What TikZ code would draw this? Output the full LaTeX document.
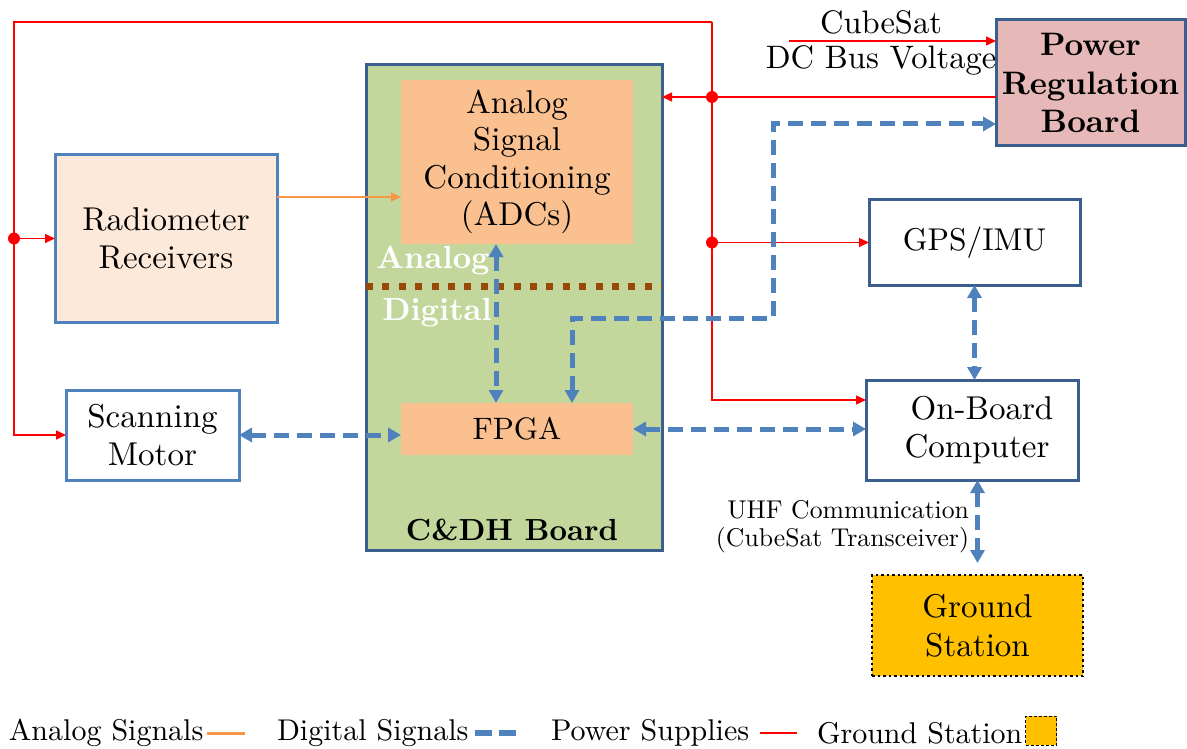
\documentclass[tikz,border=0pt]{standalone}
\usepackage{fontspec}
\setmainfont{lmroman10-regular.otf}[BoldFont=lmroman10-bold.otf, ItalicFont=lmroman10-italic.otf, BoldItalicFont=lmroman10-bolditalic.otf]
\usetikzlibrary{arrows.meta,calc}
\definecolor{bblue}{HTML}{4F81BD}
\definecolor{dblue}{HTML}{3A5F8E}
\definecolor{cgreen}{HTML}{C3D69B}
\definecolor{corange}{HTML}{FAC090}
\definecolor{cpeach}{HTML}{FDE9D9}
\definecolor{cpink}{HTML}{E6B9B8}
\definecolor{cbrown}{HTML}{984807}
\definecolor{cyellow}{HTML}{FFC000}
\definecolor{aorange}{HTML}{F79646}
\definecolor{cred}{HTML}{FF0000}
\begin{document}
\begin{tikzpicture}[x=1pt,y=-1pt,
  every node/.style={inner sep=0pt, outer sep=0pt, align=center, font=\fontsize{33}{38.5}\selectfont},
  box/.style={draw=bblue, line width=3pt, rectangle},
  dbox/.style={draw=dblue, line width=3pt, rectangle},
  inner/.style={fill=corange, rectangle},
  pwr/.style={draw=cred, line width=1.5pt},
  pwrarrow/.style={pwr, -{Triangle[length=10pt,width=9pt]}},
  dig/.style={draw=bblue, line width=5pt, dash pattern=on 15pt off 8pt},
  digarrow/.style={dig, {Triangle[length=13pt,width=14pt]}-{Triangle[length=13pt,width=14pt]}},
  pdot/.style={circle, fill=cred, minimum size=12pt},
  leg/.style={font=\fontsize{30}{34}\selectfont},
  adlbl/.style={text=white, font=\bfseries\fontsize{32}{36}\selectfont, anchor=base}
]
\useasboundingbox (0,0) rectangle (1187,749);

% C&DH board and inner blocks
\node[dbox, fill=cgreen, minimum width=296pt, minimum height=485pt] (cdh) at (514,307.5) {};
\node[font=\bfseries\fontsize{30.5}{36}\selectfont] (cdhlbl) at (512,530) {C\&DH Board};
\node[inner, minimum width=232pt, minimum height=164pt, font=\fontsize{33}{37.5}\selectfont] (adc) at (517,162) {Analog\\Signal\\Conditioning\\(ADCs)};
\node[inner, minimum width=232pt, minimum height=52pt, font=\fontsize{31}{36}\selectfont] (fpga) at (517,429) {FPGA};

% Analog/Digital divider
\coordinate (ad) at (0,286);
\draw[cbrown, line width=7pt, dash pattern=on 7pt off 9.4pt] (cdh.west |- ad) -- (cdh.east |- ad);
\node[adlbl] (lblA) at (433,269) {Analog};
\node[adlbl] (lblD) at (437,320) {Digital};

% other blocks
\node[box, fill=cpeach, minimum width=222pt, minimum height=167pt] (rad) at (166,238.5) {Radiometer\\Receivers};
\node[box, fill=white, minimum width=173pt, minimum height=90pt] (mot) at (152.5,435) {Scanning\\Motor};
\node[dbox, fill=cpink, minimum width=189pt, minimum height=126pt, font=\bfseries\fontsize{32.5}{38.5}\selectfont] (prb) at (1090.5,83) {Power\\Regulation\\Board};
\node[dbox, fill=white, minimum width=211pt, minimum height=85pt, font=\fontsize{31.5}{36}\selectfont] (gps) at (974.5,242.5) {GPS/IMU};
\node[dbox, fill=white, minimum width=212pt, minimum height=100pt] (obc) at (972,430) {\hspace*{20pt}On-Board\\\hspace*{10pt}Computer};
\node[draw=black, line width=2.5pt, dash pattern=on 2.5pt off 3pt, fill=cyellow, minimum width=211pt, minimum height=101pt] (gs) at (977.5,625.5) {Ground\\Station};

% CubeSat DC bus label
\node[font=\fontsize{32.5}{36}\selectfont] (cs1) at (881,22) {CubeSat};
\node[font=\fontsize{32.5}{36}\selectfont] (cs2) at (881,60) {DC Bus Voltage};
\coordinate (csin) at (789,41);
\draw[pwrarrow] (csin) -- (prb.west |- csin);

% power network
\coordinate (tl) at (14,22);
\coordinate (tr) at (712,22);
\coordinate (pout) at ([yshift=-14pt]prb.west);
\coordinate (j1) at (tr |- pout);
\coordinate (j2) at (tr |- gps.west);
\coordinate (j3) at (tl |- rad.west);
\coordinate (o1) at ([yshift=30pt]obc.west);
\draw[pwrarrow] (pout) -- (cdh.east |- pout);
\draw[pwrarrow] (tr) -- (tl) -- (tl |- mot.west) -- (mot.west);
\draw[pwrarrow] (j3) -- (rad.west);
\draw[pwrarrow] (tr) -- (tr |- o1) -- (o1);
\draw[pwrarrow] (j2) -- (gps.west);
\node[pdot] (d1) at (j1) {};
\node[pdot] (d2) at (j2) {};
\node[pdot] (d3) at (j3) {};

% analog signal
\coordinate (aout) at ([yshift=-42pt]rad.north east);
\draw[draw=aorange, line width=2pt, -{Triangle[length=10pt,width=9pt]}] (aout) -- (adc.west |- aout);

% digital signals
\draw[digarrow] (mot.east) -- (fpga.west |- mot.east);
\draw[digarrow] (fpga.east) -- (obc.west |- fpga.east);
\draw[digarrow] ([xshift=-21pt]adc.south) -- ([xshift=-21pt]fpga.north);
\coordinate (r1) at (773,318);
\draw[digarrow] ([xshift=55pt]fpga.north) |- (r1) |- ([yshift=-41pt]prb.west);
\draw[digarrow] (gps.south) -- (gps.south |- obc.north);
\draw[digarrow] (gs.north |- obc.south) -- ([yshift=12pt]gs.north);
\node[font=\fontsize{25.7}{28}\selectfont, align=right, anchor=east] (uhf) at (969,527) {UHF Communication\\(CubeSat Transceiver)};

% legend
\node[leg, anchor=west] (l1) at (9,733) {Analog Signals};
\draw[draw=aorange, line width=3pt] (207,733) -- (245,733);
\node[leg, anchor=west] (l2) at (277,733) {Digital Signals};
\draw[draw=bblue, line width=6pt, dash pattern=on 17pt off 7pt] (475,733) -- (517,733);
\node[leg, anchor=west] (l3) at (551,733) {Power Supplies};
\draw[draw=cred, line width=2pt] (760,733) -- (797,733);
\node[leg, anchor=west] (l4) at (817,733) {Ground Station};
\node[draw=black, line width=1pt, dash pattern=on 3pt off 2pt, fill=cyellow, minimum width=31pt, minimum height=29pt] (lgs) at (1041,730.5) {};
\end{tikzpicture}
\end{document}
